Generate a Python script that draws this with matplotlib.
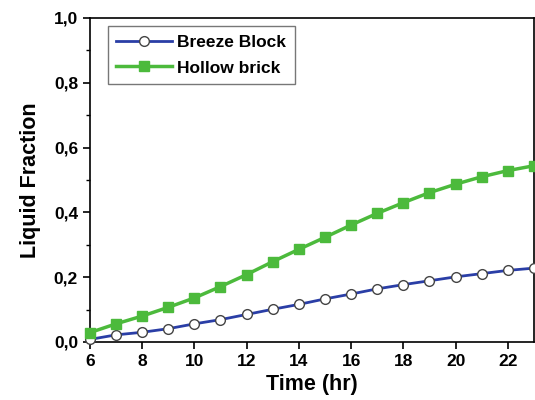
import matplotlib
matplotlib.use('Agg')
import matplotlib.pyplot as plt
from matplotlib.ticker import MultipleLocator, FuncFormatter

# values
hours = [6, 7, 8, 9, 10, 11, 12, 13, 14, 15, 16, 17, 18, 19, 20, 21, 22, 23]
breeze_block = [0.008, 0.022, 0.030, 0.041, 0.056, 0.069, 0.085, 0.101, 0.116,
                0.133, 0.148, 0.164, 0.177, 0.189, 0.201, 0.211, 0.221, 0.228]
hollow_brick = [0.029, 0.056, 0.080, 0.107, 0.136, 0.171, 0.208, 0.248, 0.286,
                0.323, 0.361, 0.397, 0.430, 0.461, 0.487, 0.510, 0.529, 0.544]

plt.rcParams['font.family'] = ['Liberation Sans', 'DejaVu Sans']
plt.rcParams['font.weight'] = 'bold'

fig = plt.figure(figsize=(5.35, 4.0), dpi=100)
ax = fig.add_axes([0.168, 0.145, 0.83, 0.81])

ax.plot(hours, breeze_block, color='#2a3ea6', lw=2, marker='o', ms=7,
        mfc='white', mec='#444444', mew=1, label='Breeze Block', clip_on=False, zorder=3)
ax.plot(hours, hollow_brick, color='#4cba3c', lw=2.5, marker='s', ms=6.5,
        mfc='#4cba3c', mec='#4cba3c', label='Hollow brick', clip_on=False, zorder=3)

ax.set_xlim(6, 23)
ax.set_ylim(0, 1.0)
ax.xaxis.set_major_locator(MultipleLocator(2))
ax.yaxis.set_major_locator(MultipleLocator(0.2))
ax.yaxis.set_minor_locator(MultipleLocator(0.1))
ax.yaxis.set_major_formatter(FuncFormatter(lambda v, p: ('%.1f' % v).replace('.', ',')))
ax.tick_params(direction='out', labelsize=12.5, width=1.2, length=5)
ax.tick_params(which='minor', direction='out', width=1.0, length=3)
for lab in ax.get_xticklabels() + ax.get_yticklabels():
    lab.set_fontweight('bold')
for s in ax.spines.values():
    s.set_linewidth(1.2)

ax.set_xlabel('Time (hr)', fontsize=15.5, fontweight='bold', labelpad=4)
ax.set_ylabel('Liquid Fraction', fontsize=15.5, fontweight='bold', labelpad=9)

leg = ax.legend(loc='upper left', bbox_to_anchor=(0.04, 0.975), borderaxespad=0,
                fontsize=12.5, fancybox=False, edgecolor='#555555', handlelength=3.2,
                borderpad=0.5, labelspacing=0.6, handletextpad=0.3)
leg.get_frame().set_linewidth(1.0)
for t in leg.get_texts():
    t.set_fontweight('bold')

fig.savefig('out.png', dpi=100)
